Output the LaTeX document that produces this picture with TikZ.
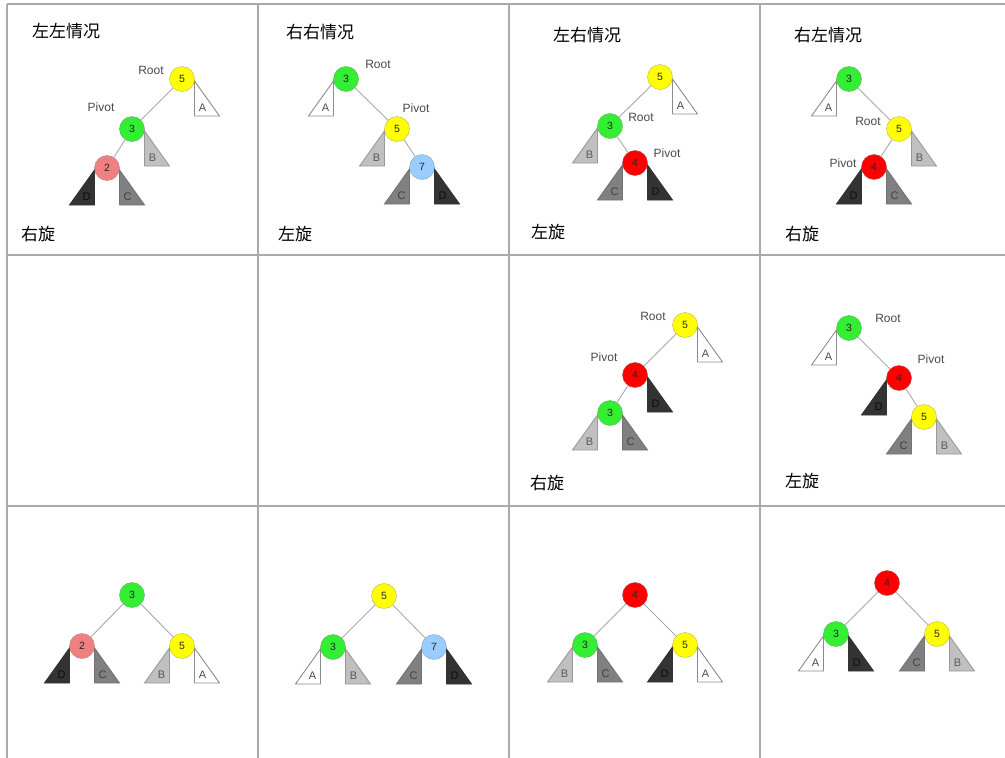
\documentclass[tikz,border=0pt]{standalone}
\usepackage{fontspec}
\setsansfont{Liberation Sans}
\newfontfamily\cjk{Noto Sans CJK SC}
\usetikzlibrary{calc}
\definecolor{gridc}{HTML}{AAAAAA}
\definecolor{edgec}{HTML}{AAAAAA}
\definecolor{cyel}{HTML}{FFFF00}
\definecolor{cgrn}{HTML}{33EE33}
\definecolor{cpnk}{HTML}{F08080}
\definecolor{cred}{HTML}{FF0000}
\definecolor{cblu}{HTML}{99CCFF}
\definecolor{tBf}{HTML}{C0C0C0}
\definecolor{tCf}{HTML}{808080}
\definecolor{tDf}{HTML}{333333}
\definecolor{lblc}{HTML}{4A4A4A}
\tikzset{
  tn/.style={circle,minimum size=25pt,inner sep=0pt,draw=#1!60!black!70,fill=#1,font=\sffamily\fontsize{10.5}{10.5}\selectfont,text=black!85},
  edge/.style={draw=edgec,line width=0.9pt},
  trA/.style={draw=black!45,fill=white,line width=0.9pt},
  trB/.style={draw=black!40,fill=tBf,line width=0.9pt},
  trC/.style={draw=black!55,fill=tCf,line width=0.9pt},
  trD/.style={draw=black!80,fill=tDf,line width=0.9pt},
  lA/.style={font=\sffamily\fontsize{11}{11}\selectfont,text=black!70},
  lB/.style={font=\sffamily\fontsize{11}{11}\selectfont,text=black!65},
  lC/.style={font=\sffamily\fontsize{11}{11}\selectfont,text=black!75},
  lD/.style={font=\sffamily\fontsize{11}{11}\selectfont,text=black!95},
  rp/.style={font=\sffamily\fontsize{12}{12}\selectfont,text=lblc,inner sep=0pt},
  cn/.style={font=\cjk\fontsize{17}{17}\selectfont,text=black,inner sep=0pt},
  grid/.style={draw=gridc,line width=1.2pt}
}
% right-hand subtree triangle under a node position
\newcommand\subR[3]{%
  \draw[tr#2] ($(#1)+(12.5,2)$) -- ($(#1)+(12.5,37)$) -- ($(#1)+(37.5,37)$) -- cycle;
  \node[l#2] at ($(#1)+(20.5,29)$) {#3};}
% left-hand subtree triangle under a node position
\newcommand\subL[3]{%
  \draw[tr#2] ($(#1)+(-12.5,2)$) -- ($(#1)+(-12.5,37)$) -- ($(#1)+(-37.5,37)$) -- cycle;
  \node[l#2] at ($(#1)+(-20.5,29)$) {#3};}
\begin{document}
\begin{tikzpicture}[x=1pt,y=-1pt]
\useasboundingbox (0,0) rectangle (1005,758);
\fill[white] (0,0) rectangle (1005,758);
% grid
\draw[grid] (7,4) -- (1005,4);
\draw[grid] (7,255) -- (1005,255);
\draw[grid] (7,506) -- (1005,506);
\draw[grid] (7,4) -- (7,758);
\draw[grid] (258,4) -- (258,758);
\draw[grid] (509,4) -- (509,758);
\draw[grid] (760,4) -- (760,758);

% ---------- cell a: left-left ----------
\coordinate (a5) at (182,79);
\coordinate (a3) at (132,129);
\coordinate (a2) at (107,168);
\subR{a5}{A}{A}
\subR{a3}{B}{B}
\subL{a2}{D}{D}
\subR{a2}{C}{C}
\node[tn=cyel] (na5) at (a5) {5};
\node[tn=cgrn] (na3) at (a3) {3};
\node[tn=cpnk] (na2) at (a2) {2};
\draw[edge] (na5) -- (na3);
\draw[edge] (na3) -- (na2);
\node[rp] (ra) at (151,70) {Root};
\node[rp] (pa) at (101,107) {Pivot};
\node[cn] (ta) at (66,31) {左左情况};
\node[cn] (oa) at (38,234) {右旋};

% ---------- cell b: right-right ----------
\coordinate (b3) at (346,79);
\coordinate (b5) at (397,129);
\coordinate (b7) at (422,167);
\subL{b3}{A}{A}
\subL{b5}{B}{B}
\subL{b7}{C}{C}
\subR{b7}{D}{D}
\node[tn=cgrn] (nb3) at (b3) {3};
\node[tn=cyel] (nb5) at (b5) {5};
\node[tn=cblu] (nb7) at (b7) {7};
\draw[edge] (nb3) -- (nb5);
\draw[edge] (nb5) -- (nb7);
\node[rp] (rb) at (378,64) {Root};
\node[rp] (pb) at (416,108) {Pivot};
\node[cn] (tb) at (320,32) {右右情况};
\node[cn] (ob) at (295,234) {左旋};

% ---------- cell c: left-right ----------
\coordinate (c5) at (660,77);
\coordinate (c3) at (610,126);
\coordinate (c4) at (635,163);
\subR{c5}{A}{A}
\subL{c3}{B}{B}
\subL{c4}{C}{C}
\subR{c4}{D}{D}
\node[tn=cyel] (nc5) at (c5) {5};
\node[tn=cgrn] (nc3) at (c3) {3};
\node[tn=cred] (nc4) at (c4) {4};
\draw[edge] (nc5) -- (nc3);
\draw[edge] (nc3) -- (nc4);
\node[rp] (rc) at (641,117) {Root};
\node[rp] (pc) at (667,153) {Pivot};
\node[cn] (tc) at (587,35) {左右情况};
\node[cn] (oc) at (548,232) {左旋};

% ---------- cell d: right-left ----------
\coordinate (d3) at (849,79);
\coordinate (d5) at (899,129);
\coordinate (d4) at (874,167);
\subL{d3}{A}{A}
\subR{d5}{B}{B}
\subL{d4}{D}{D}
\subR{d4}{C}{C}
\node[tn=cgrn] (nd3) at (d3) {3};
\node[tn=cyel] (nd5) at (d5) {5};
\node[tn=cred] (nd4) at (d4) {4};
\draw[edge] (nd3) -- (nd5);
\draw[edge] (nd5) -- (nd4);
\node[rp] (rd) at (868,121) {Root};
\node[rp] (pd) at (843,163) {Pivot};
\node[cn] (td) at (828,35) {右左情况};
\node[cn] (od) at (802,234) {右旋};

% ---------- cell e ----------
\coordinate (e5) at (685,325);
\coordinate (e4) at (635,375);
\coordinate (e3) at (610,413);
\subR{e5}{A}{A}
\subR{e4}{D}{D}
\subL{e3}{B}{B}
\subR{e3}{C}{C}
\node[tn=cyel] (ne5) at (e5) {5};
\node[tn=cred] (ne4) at (e4) {4};
\node[tn=cgrn] (ne3) at (e3) {3};
\draw[edge] (ne5) -- (ne4);
\draw[edge] (ne4) -- (ne3);
\node[rp] (re) at (653,316) {Root};
\node[rp] (pe) at (604,357) {Pivot};
\node[cn] (oe) at (547,483) {右旋};

% ---------- cell f ----------
\coordinate (f3) at (849,328);
\coordinate (f4) at (899,378);
\coordinate (f5) at (924,417);
\subL{f3}{A}{A}
\subL{f4}{D}{D}
\subL{f5}{C}{C}
\subR{f5}{B}{B}
\node[tn=cgrn] (nf3) at (f3) {3};
\node[tn=cred] (nf4) at (f4) {4};
\node[tn=cyel] (nf5) at (f5) {5};
\draw[edge] (nf3) -- (nf4);
\draw[edge] (nf4) -- (nf5);
\node[rp] (rf) at (888,318) {Root};
\node[rp] (pf) at (931,359) {Pivot};
\node[cn] (of) at (802,481) {左旋};

% ---------- cell g ----------
\coordinate (g3) at (132,595);
\coordinate (g2) at (82,646);
\coordinate (g5) at (182,646);
\subL{g2}{D}{D}
\subR{g2}{C}{C}
\subL{g5}{B}{B}
\subR{g5}{A}{A}
\node[tn=cgrn] (ng3) at (g3) {3};
\node[tn=cpnk] (ng2) at (g2) {2};
\node[tn=cyel] (ng5) at (g5) {5};
\draw[edge] (ng3) -- (ng2);
\draw[edge] (ng3) -- (ng5);

% ---------- cell h ----------
\coordinate (h5) at (384,596);
\coordinate (h3) at (333,647);
\coordinate (h7) at (434,647);
\subL{h3}{A}{A}
\subR{h3}{B}{B}
\subL{h7}{C}{C}
\subR{h7}{D}{D}
\node[tn=cyel] (nh5) at (h5) {5};
\node[tn=cgrn] (nh3) at (h3) {3};
\node[tn=cblu] (nh7) at (h7) {7};
\draw[edge] (nh5) -- (nh3);
\draw[edge] (nh5) -- (nh7);

% ---------- cell i ----------
\coordinate (i4) at (635,595);
\coordinate (i3) at (585,645);
\coordinate (i5) at (685,645);
\subL{i3}{B}{B}
\subR{i3}{C}{C}
\subL{i5}{D}{D}
\subR{i5}{A}{A}
\node[tn=cred] (ni4) at (i4) {4};
\node[tn=cgrn] (ni3) at (i3) {3};
\node[tn=cyel] (ni5) at (i5) {5};
\draw[edge] (ni4) -- (ni3);
\draw[edge] (ni4) -- (ni5);

% ---------- cell j ----------
\coordinate (j4) at (887,583);
\coordinate (j3) at (836,634);
\coordinate (j5) at (937,634);
\subL{j3}{A}{A}
\subR{j3}{D}{D}
\subL{j5}{C}{C}
\subR{j5}{B}{B}
\node[tn=cred] (nj4) at (j4) {4};
\node[tn=cgrn] (nj3) at (j3) {3};
\node[tn=cyel] (nj5) at (j5) {5};
\draw[edge] (nj4) -- (nj3);
\draw[edge] (nj4) -- (nj5);
\end{tikzpicture}
\end{document}
